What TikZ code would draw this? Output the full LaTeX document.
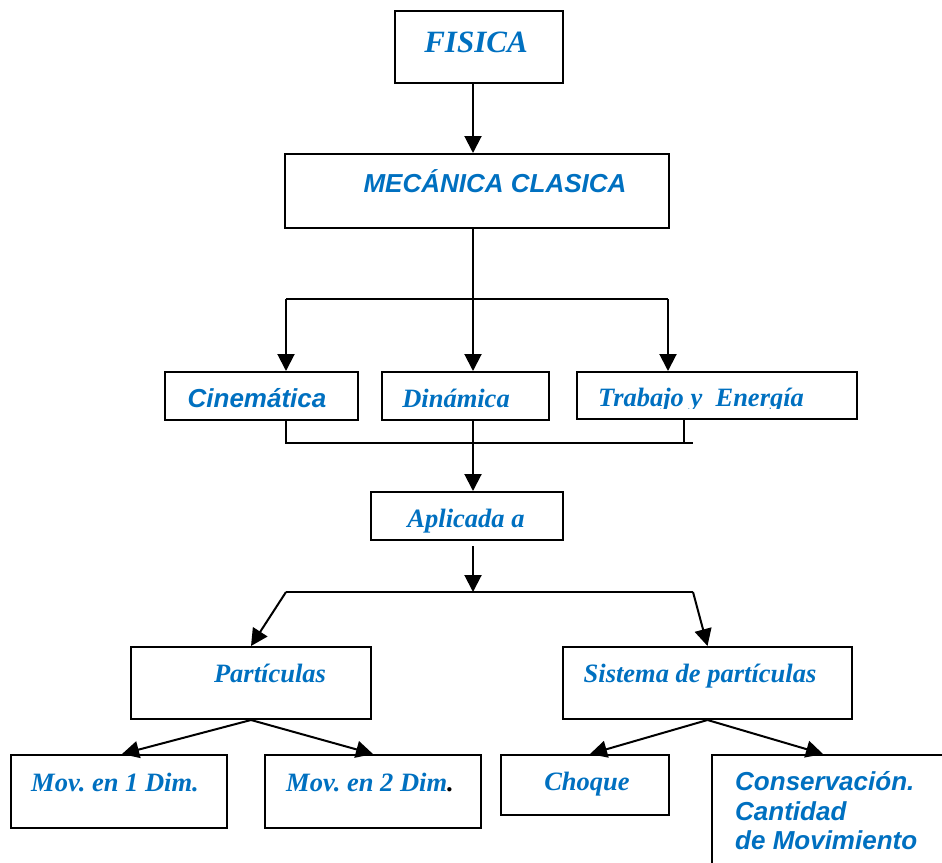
\documentclass[tikz,border=0pt]{standalone}
\usepackage{fontspec}
\setmainfont{Liberation Serif}
\setsansfont{Liberation Sans}
\usetikzlibrary{arrows.meta}
\definecolor{azul}{RGB}{0,112,192}
\frenchspacing
\begin{document}
\begin{tikzpicture}[x=1pt, y=-1pt,
    caja/.style={draw, line width=2pt, inner sep=0pt},
    linea/.style={line width=2pt},
    flecha/.style={line width=2pt, -{Triangle[length=17pt,width=17pt]}},
    textoserif/.style={text=azul, font=\fontsize{26.5}{30}\selectfont\bfseries\itshape, inner sep=0pt, anchor=base},
    textosans/.style={text=azul, font=\fontsize{26}{30}\selectfont\sffamily\bfseries\itshape, inner sep=0pt, anchor=base}]
  \useasboundingbox (0,0) rectangle (942,862);
  % cajas
  \node [caja, minimum width=168pt, minimum height=72pt] (fisica) at (479,47) {};
  \node [caja, minimum width=384pt, minimum height=74pt] (mecanica) at (477,191) {};
  \node [caja, minimum width=193pt, minimum height=48pt] (cinematica) at (261.5,396) {};
  \node [caja, minimum width=167pt, minimum height=48pt] (dinamica) at (465.5,396) {};
  \node [caja, minimum width=280pt, minimum height=47pt] (trabajo) at (717,395.5) {};
  \node [caja, minimum width=192pt, minimum height=48pt] (aplicada) at (467,516) {};
  \node [caja, minimum width=240pt, minimum height=72pt] (particulas) at (251,683) {};
  \node [caja, minimum width=289pt, minimum height=72pt] (sistema) at (707.5,683) {};
  \node [caja, minimum width=216pt, minimum height=73pt] (mov1) at (119,791.5) {};
  \node [caja, minimum width=216pt, minimum height=73pt] (mov2) at (373,791.5) {};
  \node [caja, minimum width=168pt, minimum height=60pt] (choque) at (585,785) {};
  \node [caja, minimum width=250pt, minimum height=120pt] (conservacion) at (837,815) {};
  % textos
  \node [textoserif, font=\fontsize{31}{34}\selectfont\bfseries\itshape] (tfisica) at (476,52) {FISICA};
  \node [textosans] (tmecanica) at (495,192) {MECÁNICA CLASICA};
  \node [textosans] (tcinematica) at (257,407) {Cinemática};
  \node [textoserif] (tdinamica) at (456,407) {Dinámica};
  \begin{scope}
    \clip (577,372) rectangle (857,408);
    \node [textoserif] (ttrabajo) at (701,406) {Trabajo y~ Energía};
  \end{scope}
  \node [textoserif] (taplicada) at (466,527) {Aplicada a};
  \node [textoserif] (tparticulas) at (270,682) {Partículas};
  \node [textoserif] (tsistema) at (700,682) {Sistema de partículas};
  \node [textoserif] (tmov1) at (115,791) {Mov. en 1 Dim.};
  \node [textoserif] (tmov2) at (370,791) {Mov. en 2 Dim\textcolor{black}{.}};
  \node [textoserif] (tchoque) at (587,790) {Choque};
  \node [textosans, anchor=base west] (tcons1) at (735,790) {Conservación.};
  \node [textosans, anchor=base west] (tcons2) at (735,820) {Cantidad};
  \node [textosans, anchor=base west] (tcons3) at (735,849) {de Movimiento};
  % puntos de reparto
  \coordinate (eje) at (473,299);
  \coordinate (izq) at (286,299);
  \coordinate (der) at (668,299);
  \coordinate (union) at (473,443);
  \coordinate (unionizq) at (286,443);
  \coordinate (uniontrab) at (684,443);
  \coordinate (unionder) at (693,443);
  \coordinate (reparto) at (473,592);
  \coordinate (repizq) at (286,592);
  \coordinate (repder) at (693,592);
  % conectores
  \draw [flecha] (fisica.south -| eje) -- (mecanica.north -| eje);
  \draw [linea] (mecanica.south -| eje) -- (eje);
  \draw [linea] (izq) -- (der);
  \draw [flecha] (izq) -- (cinematica.north -| izq);
  \draw [flecha] (eje) -- (dinamica.north -| eje);
  \draw [flecha] (der) -- (trabajo.north -| der);
  \draw [linea] (cinematica.south -| unionizq) -- (unionizq) -- (unionder);
  \draw [linea] (trabajo.south -| uniontrab) -- (uniontrab);
  \draw [flecha] (dinamica.south -| union) -- (aplicada.north -| union);
  \draw [flecha] ([yshift=-5pt]aplicada.south -| reparto) -- (reparto);
  \draw [linea] (repizq) -- (repder);
  \draw [flecha] (repizq) -- (particulas.north);
  \draw [flecha] (repder) -- (sistema.north);
  \draw [flecha] (particulas.south) -- ([xshift=3pt]mov1.north);
  \draw [flecha] (particulas.south) -- (mov2.north);
  \draw [flecha] (sistema.south) -- ([xshift=5pt]choque.north);
  \draw [flecha] (sistema.south) -- ([xshift=-14pt]conservacion.north);
\end{tikzpicture}
\end{document}
